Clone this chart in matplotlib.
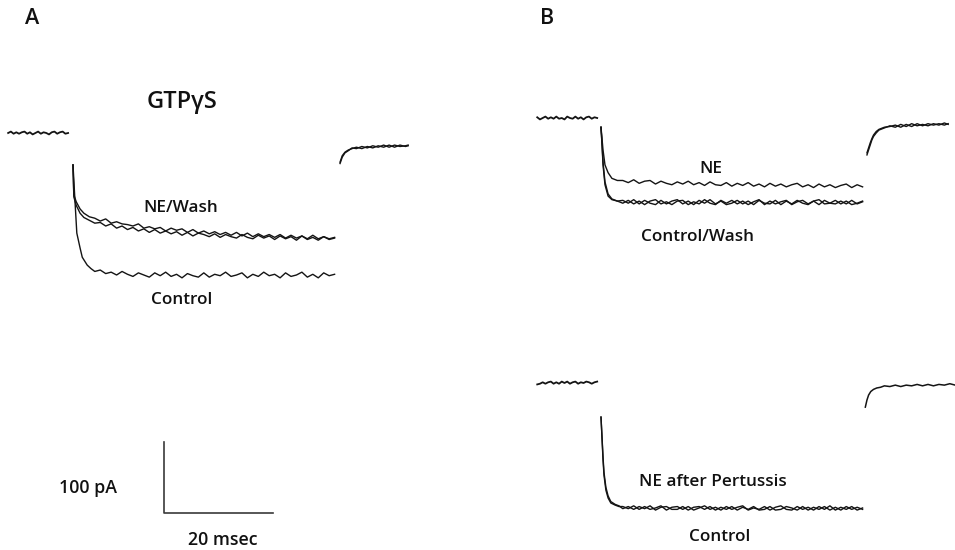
import numpy as np
import matplotlib
matplotlib.use("Agg")
import matplotlib.pyplot as plt

W, H = 955, 550
PX_PER_MS = 5.45   # 20 ms scale bar ~109 px
PX_PER_PA = 0.71   # 100 pA scale bar ~71 px

# ---------------- data (ms, pA; inward current negative) ----------------
late_t_range = (4, 48)

# Panel A, GTPgS
a_pre = [0, 2, -1, 1, -1, 1, 2, -1, 1, -2, 0, 2, -1, 1, 0, -2, 1, 2, -1, 1, 2, -1, 0]
a_ctrl_early_t = [0, 0.35, 0.7, 1.3, 1.7, 2.6, 3.3]
a_ctrl_early = [-45, -94, -141, -162, -175, -186, -191]
a_ctrl_late = [-195, -193, -198, -196, -200, -195, -199, -202, -197, -200, -203, -197, -201, -196, -202,
               -199, -204, -198, -201, -203, -197, -203, -199, -201, -196, -202, -200, -197, -204, -199,
               -202, -196, -201, -199, -204, -197, -202, -200, -196, -203, -199, -204, -197, -201, -199]
a_ne_early_t = [0, 0.15, 0.6, 1.3, 2.0, 3.0]
a_ne_early = [-45, -87, -97, -107, -113, -118]
a_ne_late = [-120, -124, -121, -127, -125, -128, -129, -131, -128, -134, -132, -135, -133, -138, -134,
             -137, -135, -140, -136, -141, -138, -142, -139, -143, -140, -144, -140, -145, -141, -146,
             -142, -146, -143, -147, -143, -148, -144, -148, -145, -149, -144, -149, -146, -149, -147]
a_wash_early = [-45, -90, -102, -113, -119, -123]
a_wash_late = [-127, -126, -131, -128, -134, -131, -136, -133, -138, -135, -140, -136, -141, -138, -142,
               -139, -144, -140, -145, -141, -143, -146, -142, -147, -143, -146, -148, -143, -147, -149,
               -144, -148, -145, -150, -145, -149, -146, -151, -145, -150, -147, -151, -146, -150, -148]
a_tail_t = [49.0, 49.4, 49.9, 50.5, 51.2, 52, 53, 54, 55, 56, 57, 58, 59, 60, 61, 61.5]
a_tail_1 = [-41, -32, -27, -24, -22, -20, -22, -19, -21, -18, -20, -17, -20, -17, -19, -18]
a_tail_2 = [-43, -34, -28, -25, -21, -22, -19, -21, -18, -20, -17, -20, -17, -19, -18, -17]

# Panel B top, NE vs Control/Wash
bt_pre = [1, -2, 0, 2, -1, 1, -1, 2, -1, 0, -2, 2, 0, -1, 2, -1, 1, -2, 1, 2, -1, 1, 0]
bt_ne_early_t = [0, 0.37, 0.73, 1.3, 2.0, 3.0]
bt_ne_early = [-13, -45, -66, -77, -85, -88]
bt_ne_late = [-88, -91, -87, -92, -89, -88, -93, -89, -92, -94, -90, -93, -89, -94, -91,
              -95, -90, -94, -95, -91, -96, -92, -95, -91, -96, -93, -97, -92, -96, -93,
              -97, -94, -92, -97, -94, -98, -93, -97, -94, -98, -95, -93, -98, -94, -97]
bt_ctrl_early_t = [0, 0.2, 0.37, 0.73, 1.3, 2.0, 3.0]
bt_ctrl_early = [-13, -40, -66, -94, -110, -115, -117]
bt_ctrl_late = [-116, -120, -115, -121, -116, -120, -122, -116, -121, -117, -115, -121, -117, -122, -116,
                -120, -115, -121, -117, -122, -120, -116, -121, -117, -122, -116, -120, -121, -116, -122,
                -117, -121, -116, -120, -122, -117, -115, -121, -120, -116, -121, -117, -122, -120, -117]
bt_wash_early = [-13, -38, -62, -90, -107, -114, -117]
bt_wash_late = [-120, -116, -121, -117, -122, -117, -115, -121, -118, -122, -117, -116, -122, -118, -121,
                -115, -120, -122, -116, -120, -116, -121, -117, -122, -118, -115, -122, -117, -121, -118,
                -116, -122, -118, -116, -121, -117, -122, -116, -120, -121, -117, -121, -116, -121, -118]
bt_tail_t = [48.8, 49.1, 49.4, 49.7, 50.0, 50.5, 51, 52, 53, 54, 55, 56, 57, 58, 59, 60, 61, 62, 63, 63.7]
bt_tail_1 = [-49, -42, -35, -29, -24, -19, -16, -13, -12, -10, -13, -9, -12, -8, -11, -8, -10, -8, -10, -8]
bt_tail_2 = [-52, -45, -38, -31, -26, -21, -17, -14, -11, -13, -9, -12, -8, -11, -9, -11, -8, -10, -7, -9]

# Panel B bottom, NE after Pertussis vs Control
bb_pre = [-2, -1, 1, -1, 1, 2, -1, 1, -1, 2, 0, 2, -1, 1, 2, -1, 1, 0, 2, 1, -1, 1, 2]
bb_early_t = [0, 0.2, 0.37, 0.55, 0.9, 1.3, 1.8, 2.6, 3.3]
bb_ctrl_early = [-48, -80, -108, -130, -151, -162, -169, -172, -174]
bb_ctrl_late = [-174, -177, -173, -178, -174, -178, -176, -173, -179, -175, -174, -178, -174, -179, -176,
                -173, -178, -175, -179, -174, -178, -175, -173, -179, -176, -178, -174, -179, -175, -173,
                -178, -179, -174, -178, -175, -179, -174, -178, -173, -179, -175, -178, -174, -179, -176]
bb_pert_early = [-48, -78, -104, -126, -147, -159, -167, -171, -173]
bb_pert_late = [-177, -174, -178, -174, -177, -173, -179, -175, -174, -178, -178, -174, -179, -175, -174,
                -178, -174, -179, -175, -178, -174, -179, -175, -178, -174, -179, -178, -174, -179, -178,
                -174, -176, -179, -174, -179, -175, -178, -174, -179, -175, -179, -174, -178, -175, -178]
bb_tail_t = [48.5, 48.8, 49.1, 49.5, 50, 50.6, 51.3, 52, 53, 54, 55, 56, 57, 58, 59, 60, 61, 62, 63, 64, 65]
bb_tail = [-34, -24, -17, -12, -9, -7, -6, -4, -5, -3, -5, -3, -4, -2, -4, -2, -4, -2, -3, -1, -3]

TRACE = dict(color="#141414", lw=1.0, solid_joinstyle="round")


def panel_axes(fig, x0, y0, name):
    # full-figure transparent axes: t=0 at pixel x0, I=0 at pixel y0
    ax = fig.add_axes([0, 0, 1, 1], label=name)
    ax.set_xlim(-x0 / PX_PER_MS, (W - x0) / PX_PER_MS)
    ax.set_ylim((y0 - H) / PX_PER_PA, y0 / PX_PER_PA)
    ax.axis("off")
    ax.patch.set_alpha(0)
    return ax


def sweep(ax, early_t, early_i, late_i):
    t = np.concatenate([early_t, np.linspace(*late_t_range, len(late_i))])
    ax.plot(t, np.concatenate([early_i, late_i]), **TRACE)


def baseline(ax, t0, t1, vals):
    ax.plot(np.linspace(t0, t1, len(vals)), vals, color="#141414", lw=1.3)


fig = plt.figure(figsize=(W / 100, H / 100), dpi=100)

# panel A
ax_a = panel_axes(fig, 73, 133, "A")
baseline(ax_a, -11.9, -0.9, a_pre)
sweep(ax_a, a_ctrl_early_t, a_ctrl_early, a_ctrl_late)
sweep(ax_a, a_ne_early_t, a_ne_early, a_ne_late)
sweep(ax_a, a_ne_early_t, a_wash_early, a_wash_late)
ax_a.plot(a_tail_t, a_tail_1, **TRACE)
ax_a.plot(a_tail_t, a_tail_2, **TRACE)

# scale bar: 20 ms x 100 pA
sb_t, sb_i = 16.7, -535
ax_a.plot([sb_t, sb_t, sb_t + 20], [sb_i + 100, sb_i, sb_i], color="#3a3a3a", lw=1.2)

# panel B top
ax_bt = panel_axes(fig, 601, 118, "Btop")
baseline(ax_bt, -11.7, -0.7, bt_pre)
sweep(ax_bt, bt_ne_early_t, bt_ne_early, bt_ne_late)
sweep(ax_bt, bt_ctrl_early_t, bt_ctrl_early, bt_ctrl_late)
sweep(ax_bt, bt_ctrl_early_t, bt_wash_early, bt_wash_late)
ax_bt.plot(bt_tail_t, bt_tail_1, **TRACE)
ax_bt.plot(bt_tail_t, bt_tail_2, **TRACE)

# panel B bottom
ax_bb = panel_axes(fig, 601, 383, "Bbot")
baseline(ax_bb, -11.7, -0.7, bb_pre)
sweep(ax_bb, bb_early_t, bb_ctrl_early, bb_ctrl_late)
sweep(ax_bb, bb_early_t, bb_pert_early, bb_pert_late)
ax_bb.plot(bb_tail_t, bb_tail, color="#141414", lw=1.1)

# labels, in pixel coordinates
ax_txt = fig.add_axes([0, 0, 1, 1], label="text")
ax_txt.set_xlim(0, W)
ax_txt.set_ylim(H, 0)
ax_txt.axis("off")
ax_txt.patch.set_alpha(0)

labels = [
    ("A", 32, 18, 15.5),
    ("B", 547, 18, 15.5),
    ("GTP\u03b3S", 182, 102, 17),
    ("NE/Wash", 181, 208, 12.3),
    ("Control", 182, 300, 12.3),
    ("NE", 711, 169, 12.3),
    ("Control/Wash", 697, 237, 12.3),
    ("NE after Pertussis", 713, 482, 12.3),
    ("Control", 720, 537, 12.3),
    ("100 pA", 88, 488, 12.8),
    ("20 msec", 223, 540, 12.8),
]
for s, x, y, fs in labels:
    ax_txt.text(x, y, s, ha="center", va="center", fontsize=fs, color="#111111",
                family="Open Sans", fontweight="semibold")

fig.savefig("out.png", dpi=100, facecolor="white")
